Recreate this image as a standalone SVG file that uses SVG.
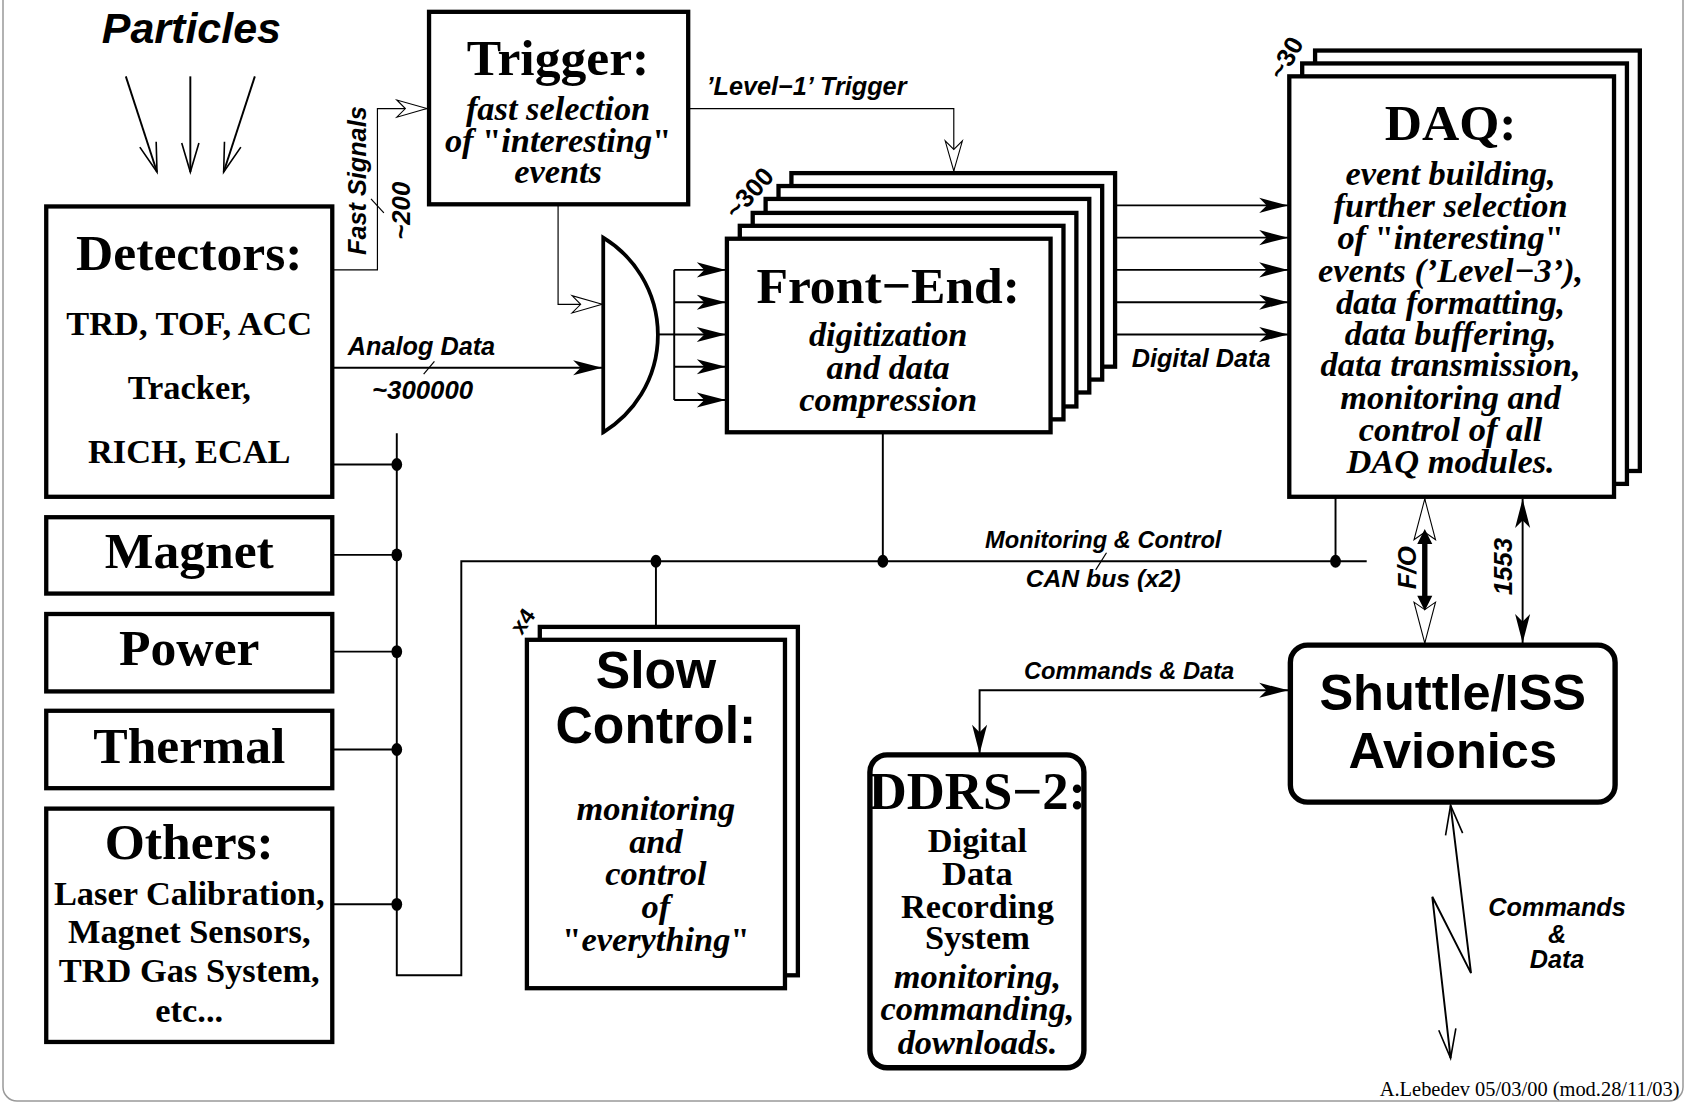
<svg xmlns="http://www.w3.org/2000/svg" width="1686" height="1104" viewBox="0 0 1686 1104">
<defs>
<style>
.box{fill:#fff;stroke:#000;stroke-width:4}
.rbox{fill:#fff;stroke:#000;stroke-width:5}
.ln{fill:none;stroke:#000;stroke-width:1.8}
.tn{fill:none;stroke:#000;stroke-width:1.1}
.tb{font-family:"Liberation Serif","Times New Roman",serif;font-weight:bold;text-anchor:middle;fill:#000}
.ti{font-family:"Liberation Serif","Times New Roman",serif;font-weight:bold;font-style:italic;text-anchor:middle;fill:#000}
.sb{font-family:"Liberation Sans",Arial,sans-serif;font-weight:bold;text-anchor:middle;fill:#000}
.si{font-family:"Liberation Sans",Arial,sans-serif;font-weight:bold;font-style:italic;fill:#000}
.dot{fill:#000}
</style>
<marker id="as" markerUnits="userSpaceOnUse" orient="auto-start-reverse" overflow="visible" markerWidth="1" markerHeight="1">
<path d="M0,0 L-27,-7 L-20,0 L-27,7 Z" fill="#000"/>
</marker>
<marker id="ah" markerUnits="userSpaceOnUse" orient="auto-start-reverse" overflow="visible" markerWidth="1" markerHeight="1">
<path d="M0,0 L-28,-8 L-20,0 L-28,8 Z" fill="#fff" stroke="#000" stroke-width="1"/>
</marker>
<marker id="afo" markerUnits="userSpaceOnUse" orient="auto-start-reverse" overflow="visible" markerWidth="1" markerHeight="1">
<path d="M0,0 L-38,-10 L-31,0 L-38,10 Z" fill="#fff" stroke="#000" stroke-width="1"/>
</marker>
<marker id="av" markerUnits="userSpaceOnUse" orient="auto-start-reverse" overflow="visible" markerWidth="1" markerHeight="1">
<path d="M-27,-8 L0,0 L-27,8" fill="none" stroke="#000" stroke-width="1.5"/>
</marker>
</defs>
<rect width="1686" height="1104" fill="#fff"/>
<rect x="3" y="-20" width="1680" height="1121" rx="14" fill="none" stroke="#999" stroke-width="1.5"/>
<g transform="scale(1.0753)">

<g id="particles">
<text class="si" x="178" y="40" font-size="40" text-anchor="middle">Particles</text>
</g>

<g id="detectors">
<rect class="box" x="43" y="192" width="266" height="270"/>
<text class="tb" x="176" y="251" font-size="48">Detectors:</text>
<text class="tb" x="176" y="312" font-size="32">TRD, TOF, ACC</text>
<text class="tb" x="176" y="371" font-size="32">Tracker,</text>
<text class="tb" x="176" y="431" font-size="32">RICH, ECAL</text>
</g>
<g id="magnet">
<rect class="box" x="43" y="481" width="266" height="71"/>
<text class="tb" x="176" y="528" font-size="48">Magnet</text>
</g>
<g id="power">
<rect class="box" x="43" y="571" width="266" height="72"/>
<text class="tb" x="176" y="618" font-size="48">Power</text>
</g>
<g id="thermal">
<rect class="box" x="43" y="661" width="266" height="72"/>
<text class="tb" x="176" y="710" font-size="48">Thermal</text>
</g>
<g id="others">
<rect class="box" x="43" y="752" width="266" height="217"/>
<text class="tb" x="176" y="799" font-size="48">Others:</text>
<text class="tb" x="176" y="842" font-size="32">Laser Calibration,</text>
<text class="tb" x="176" y="877" font-size="32">Magnet Sensors,</text>
<text class="tb" x="176" y="913" font-size="32">TRD Gas System,</text>
<text class="tb" x="176" y="950" font-size="32">etc...</text>
</g>

<g id="trigger">
<rect class="box" x="399" y="11" width="241" height="179"/>
<text class="tb" x="519" y="70" font-size="48">Trigger:</text>
<text class="ti" x="519" y="112" font-size="32">fast selection</text>
<text class="ti" x="519" y="141" font-size="32">of <tspan font-style="normal">"</tspan>interesting<tspan font-style="normal">"</tspan></text>
<text class="ti" x="519" y="170" font-size="32">events</text>
</g>

<g id="gate">
<path d="M561,221 A106,106 0 0 1 561,402 Z" fill="#fff" stroke="#000" stroke-width="3.5"/>
</g>

<g id="frontend">
<rect class="box" x="736" y="161" width="301" height="180"/>
<rect class="box" x="724" y="173" width="301" height="180"/>
<rect class="box" x="712" y="185" width="301" height="180"/>
<rect class="box" x="700" y="198" width="301" height="180"/>
<rect class="box" x="688" y="210" width="301" height="180"/>
<rect class="box" x="676" y="222" width="301" height="180"/>
<text class="sb" font-size="24" transform="translate(703,185) rotate(-48)">~300</text>
<text class="tb" x="826" y="282" font-size="48">Front−End:</text>
<text class="ti" x="826" y="322" font-size="32">digitization</text>
<text class="ti" x="826" y="352" font-size="32">and data</text>
<text class="ti" x="826" y="382" font-size="32">compression</text>
</g>

<g id="daq">
<rect class="box" x="1223" y="47" width="302" height="391"/>
<rect class="box" x="1211" y="59" width="302" height="391"/>
<rect class="box" x="1199" y="71" width="302" height="391"/>
<text class="sb" font-size="24" transform="translate(1203,58) rotate(-60)">~30</text>
<text class="tb" x="1349" y="130" font-size="48">DAQ:</text>
<text class="ti" x="1349" y="172" font-size="32">event building,</text>
<text class="ti" x="1349" y="202" font-size="32">further selection</text>
<text class="ti" x="1349" y="232" font-size="32">of <tspan font-style="normal">"</tspan>interesting<tspan font-style="normal">"</tspan></text>
<text class="ti" x="1349" y="262" font-size="32">events (’Level−3’),</text>
<text class="ti" x="1349" y="292" font-size="32">data formatting,</text>
<text class="ti" x="1349" y="321" font-size="32">data buffering,</text>
<text class="ti" x="1349" y="350" font-size="32">data transmission,</text>
<text class="ti" x="1349" y="380" font-size="32">monitoring and</text>
<text class="ti" x="1349" y="410" font-size="32">control of all</text>
<text class="ti" x="1349" y="440" font-size="32">DAQ modules.</text>
</g>

<g id="slowcontrol">
<rect class="box" x="502" y="583" width="240" height="324"/>
<rect class="box" x="490" y="595" width="240" height="324"/>
<text class="sb" font-size="21" transform="translate(492,582) rotate(-55)">x4</text>
<text class="sb" x="610" y="640" font-size="48">Slow</text>
<text class="sb" x="610" y="691" font-size="48">Control:</text>
<text class="ti" x="610" y="763" font-size="32">monitoring</text>
<text class="ti" x="610" y="793" font-size="32">and</text>
<text class="ti" x="610" y="823" font-size="32">control</text>
<text class="ti" x="610" y="854" font-size="32">of</text>
<text class="ti" x="610" y="884" font-size="32"><tspan font-style="normal">"</tspan>everything<tspan font-style="normal">"</tspan></text>
</g>

<g id="shuttle">
<rect class="rbox" x="1200" y="600" width="302" height="146" rx="16"/>
<text class="sb" x="1351" y="660" font-size="47">Shuttle/ISS</text>
<text class="sb" x="1351" y="714" font-size="47">Avionics</text>
</g>

<g id="ddrs">
<rect class="rbox" x="809" y="702" width="199" height="291" rx="16"/>
<text class="tb" x="909" y="752" font-size="49">DDRS−2:</text>
<text class="tb" x="909" y="792" font-size="32">Digital</text>
<text class="tb" x="909" y="823" font-size="32">Data</text>
<text class="tb" x="909" y="854" font-size="32">Recording</text>
<text class="tb" x="909" y="883" font-size="32">System</text>
<text class="ti" x="909" y="919" font-size="32">monitoring,</text>
<text class="ti" x="909" y="949" font-size="32">commanding,</text>
<text class="ti" x="909" y="980" font-size="32">downloads.</text>
</g>

<g id="connectors">
<line class="ln" x1="117" y1="71" x2="146" y2="160" marker-end="url(#av)" stroke-width="1.5"/>
<line class="ln" x1="177" y1="71" x2="177" y2="160" marker-end="url(#av)" stroke-width="1.5"/>
<line class="ln" x1="237" y1="71" x2="208" y2="160" marker-end="url(#av)" stroke-width="1.5"/>

<polyline class="tn" points="309,251 351,251 351,101 397,101" marker-end="url(#ah)"/>
<line class="tn" x1="345" y1="185" x2="357" y2="198"/>
<text class="si" font-size="23.5" text-anchor="middle" transform="translate(340,168) rotate(-90)">Fast Signals</text>
<text class="si" font-size="24" text-anchor="middle" transform="translate(381,196) rotate(-90)">~200</text>

<polyline class="tn" points="519,191 519,283 560,283" marker-end="url(#ah)"/>
<polyline class="tn" points="641,101 887,101 887,159" marker-end="url(#ah)"/>
<text class="si" x="750" y="88" font-size="23.5" text-anchor="middle">’Level−1’ Trigger</text>

<line class="ln" x1="309" y1="342" x2="560" y2="342" marker-end="url(#as)"/>
<line class="tn" x1="394" y1="348" x2="404" y2="336" stroke-width="1.4"/>
<text class="si" x="392" y="330" font-size="23.5" text-anchor="middle">Analog Data</text>
<text class="si" x="393" y="371" font-size="24" text-anchor="middle">~300000</text>

<line class="ln" x1="612" y1="311" x2="627" y2="311"/>
<line class="ln" x1="627" y1="251" x2="627" y2="372"/>
<line class="ln" x1="627" y1="251" x2="675" y2="251" marker-end="url(#as)"/>
<line class="ln" x1="627" y1="281" x2="675" y2="281" marker-end="url(#as)"/>
<line class="ln" x1="627" y1="311" x2="675" y2="311" marker-end="url(#as)"/>
<line class="ln" x1="627" y1="341" x2="675" y2="341" marker-end="url(#as)"/>
<line class="ln" x1="627" y1="372" x2="675" y2="372" marker-end="url(#as)"/>

<line class="ln" x1="1038" y1="191" x2="1198" y2="191" marker-end="url(#as)"/>
<line class="ln" x1="1038" y1="221" x2="1198" y2="221" marker-end="url(#as)"/>
<line class="ln" x1="1038" y1="251" x2="1198" y2="251" marker-end="url(#as)"/>
<line class="ln" x1="1038" y1="281" x2="1198" y2="281" marker-end="url(#as)"/>
<line class="ln" x1="1038" y1="311" x2="1198" y2="311" marker-end="url(#as)"/>
<text class="si" x="1117" y="341" font-size="23.5" text-anchor="middle">Digital Data</text>

<polyline class="ln" points="369,403 369,907 429,907 429,522 1271,522"/>
<line class="ln" x1="309" y1="432" x2="369" y2="432"/>
<line class="ln" x1="309" y1="516" x2="369" y2="516"/>
<line class="ln" x1="309" y1="606" x2="369" y2="606"/>
<line class="ln" x1="309" y1="697" x2="369" y2="697"/>
<line class="ln" x1="309" y1="841" x2="369" y2="841"/>
<line class="ln" x1="610" y1="522" x2="610" y2="583"/>
<line class="ln" x1="821" y1="402" x2="821" y2="522"/>
<line class="ln" x1="1242" y1="462" x2="1242" y2="522"/>
<line class="tn" x1="1019" y1="530" x2="1029" y2="514" stroke-width="1.4"/>
<ellipse class="dot" cx="369" cy="432" rx="5" ry="6"/>
<ellipse class="dot" cx="369" cy="516" rx="5" ry="6"/>
<ellipse class="dot" cx="369" cy="606" rx="5" ry="6"/>
<ellipse class="dot" cx="369" cy="697" rx="5" ry="6"/>
<ellipse class="dot" cx="369" cy="841" rx="5" ry="6"/>
<ellipse class="dot" cx="610" cy="522" rx="5" ry="6"/>
<ellipse class="dot" cx="821" cy="522" rx="5" ry="6"/>
<ellipse class="dot" cx="1242" cy="522" rx="5" ry="6"/>
<text class="si" x="1026" y="510" font-size="22" text-anchor="middle">Monitoring &amp; Control</text>
<text class="si" x="1026" y="546" font-size="23" text-anchor="middle">CAN bus (x2)</text>

<line class="tn" x1="1325" y1="464" x2="1325" y2="598" marker-start="url(#afo)" marker-end="url(#afo)"/>
<line x1="1325" y1="504" x2="1325" y2="556" stroke="#000" stroke-width="5"/>
<path d="M1325,492 L1318,506 L1332,506 Z M1325,568 L1318,554 L1332,554 Z" fill="#000"/>
<text class="si" font-size="24" text-anchor="middle" transform="translate(1317,528) rotate(-90)">F/O</text>
<line class="ln" x1="1416" y1="464" x2="1416" y2="598" marker-start="url(#as)" marker-end="url(#as)"/>
<text class="si" font-size="24" text-anchor="middle" transform="translate(1406,527) rotate(-90)">1553</text>

<polyline class="ln" points="911,701 911,642 1198,642" marker-start="url(#as)" marker-end="url(#as)"/>
<text class="si" x="1050" y="631" font-size="22" text-anchor="middle">Commands &amp; Data</text>

<polyline class="ln" points="1349,749 1368,905 1332,834 1349,984" stroke-width="1.5" marker-start="url(#av)" marker-end="url(#av)"/>
<text class="si" x="1448" y="852" font-size="23.5" text-anchor="middle">Commands</text>
<text class="si" x="1448" y="877" font-size="23.5" text-anchor="middle">&amp;</text>
<text class="si" x="1448" y="900" font-size="23.5" text-anchor="middle">Data</text>
</g>

<text x="1562" y="1019" font-family="Liberation Serif,'Times New Roman',serif" font-size="19" text-anchor="end">A.Lebedev 05/03/00 (mod.28/11/03)</text>
</g>
</svg>
